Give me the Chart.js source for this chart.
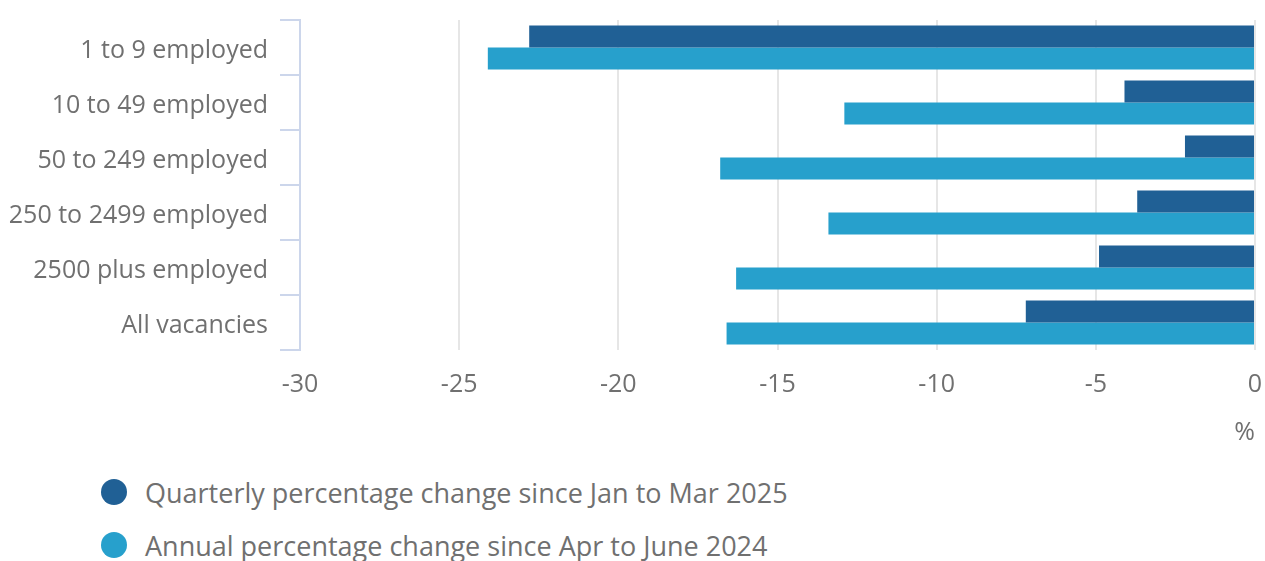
<!DOCTYPE html>
<html>
<head>
<meta charset="utf-8">
<script src="https://cdn.jsdelivr.net/npm/chart.js@4.4.1/dist/chart.umd.min.js"></script>
<style>
  body { margin: 0; background: #fff; font-family: "Open Sans", sans-serif; }
  #wrap { width: 1265px; height: 460px; }
  #legend { position: relative; width: 1265px; height: 101px; }
  .item { position: absolute; left: 101px; height: 30px; display: flex; align-items: center; color: #707070; font-size: 27px; white-space: nowrap; }
  .dot { width: 26px; height: 26px; border-radius: 50%; margin-right: 18px; }
</style>
</head>
<body>
<div id="wrap"><canvas id="chart" width="1265" height="460"></canvas></div>
<div id="legend"></div>
<script>
const categories = ["1 to 9 employed", "10 to 49 employed", "50 to 249 employed", "250 to 2499 employed", "2500 plus employed", "All vacancies"];
const quarterly = [-22.8, -4.1, -2.2, -3.7, -4.9, -7.2];
const annual = [-24.1, -12.9, -16.8, -13.4, -16.3, -16.6];
const seriesNames = ["Quarterly percentage change since Jan to Mar 2025", "Annual percentage change since Apr to June 2024"];
const seriesColors = ["#206095", "#27a0cc"];
const xTicks = [-30, -25, -20, -15, -10, -5, 0];

const ctx = document.getElementById('chart');

new Chart(ctx, {
  type: 'bar',
  data: {
    labels: categories,
    datasets: [
      { label: seriesNames[0], data: quarterly, backgroundColor: seriesColors[0] },
      { label: seriesNames[1], data: annual, backgroundColor: seriesColors[1] }
    ]
  },
  options: {
    indexAxis: 'y',
    responsive: false,
    animation: false,
    categoryPercentage: 0.8,
    barPercentage: 1,
    layout: { padding: { top: 20, right: 10, left: 0, bottom: 0 } },
    plugins: {
      legend: { display: false },
      tooltip: { enabled: false }
    },
    scales: {
      x: {
        min: -30,
        max: 0,
        afterBuildTicks: (scale) => { scale.ticks = xTicks.map(v => ({ value: v })); },
        afterFit: (scale) => {
          scale.height = 110;
          scale.paddingLeft = 0;
          scale.paddingRight = 0;
        },
        grid: { color: '#e6e6e6', lineWidth: 2, drawTicks: false },
        border: { display: false },
        ticks: { color: '#707070', font: { family: 'Open Sans', size: 25 }, padding: 20 },
        title: {
          display: true,
          text: '%',
          align: 'end',
          color: '#707070',
          font: { family: 'Open Sans', size: 25 },
          padding: { top: 0, bottom: 12 }
        }
      },
      y: {
        afterFit: (scale) => {
          scale.width = 300;
          scale.paddingTop = 0;
          scale.paddingBottom = 0;
        },
        grid: { offset: true, drawOnChartArea: false, drawTicks: true, tickLength: 20, color: '#ccd6eb', lineWidth: 2 },
        border: { display: true, color: '#ccd6eb', width: 2 },
        ticks: { color: '#707070', font: { family: 'Open Sans', size: 25 }, padding: 12, labelOffset: 3 }
      }
    }
  }
});

// legend
const legend = document.getElementById('legend');
seriesNames.forEach((name, i) => {
  const item = document.createElement('div');
  item.className = 'item';
  item.style.top = (17 + i * 53) + 'px';
  const dot = document.createElement('span');
  dot.className = 'dot';
  dot.style.background = seriesColors[i];
  const txt = document.createElement('span');
  txt.textContent = name;
  item.appendChild(dot);
  item.appendChild(txt);
  legend.appendChild(item);
});
</script>
</body>
</html>
